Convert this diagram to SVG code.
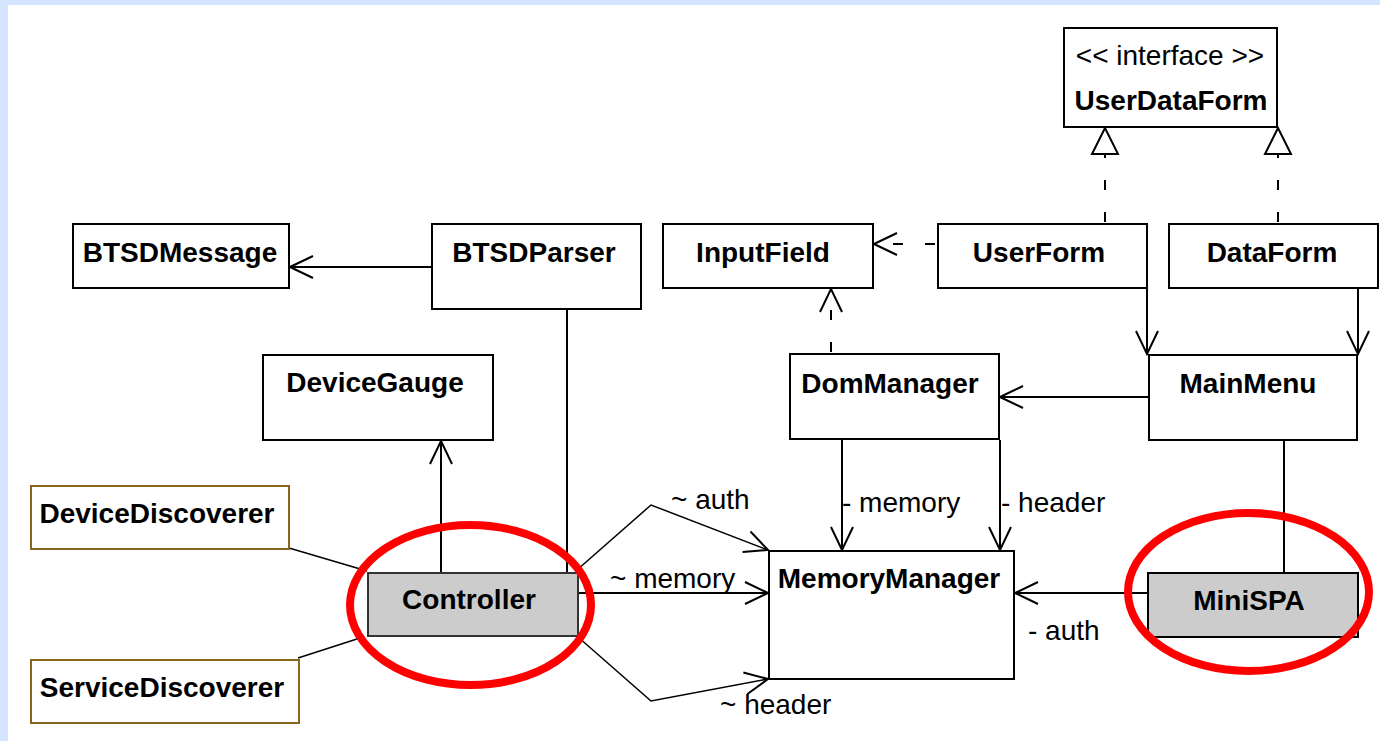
<svg xmlns="http://www.w3.org/2000/svg" width="1380" height="741" viewBox="0 0 1380 741">
<defs>
<style>
.box{fill:#fff;stroke:#000;stroke-width:2}
.gbox{fill:#ccc;stroke:#333;stroke-width:2}
.bbox{fill:#fff;stroke:#85661A;stroke-width:2}
.t{font-family:"Liberation Sans",Arial,sans-serif;font-size:28px;font-weight:bold;fill:#000;text-anchor:middle}
.r{font-family:"Liberation Sans",Arial,sans-serif;font-size:28px;fill:#000}
.c{fill:none;stroke:#000;stroke-width:2}
.thin{fill:none;stroke:#000;stroke-width:1.5}
.d{fill:none;stroke:#000;stroke-width:2;stroke-dasharray:10 22;stroke-dashoffset:30}
.ring{fill:none;stroke:#f00;stroke-width:8}
</style>
<marker id="open" viewBox="-26 -14 28 28" markerWidth="28" markerHeight="28" refX="0" refY="0" orient="auto" markerUnits="userSpaceOnUse">
<path d="M -23 -11 L 0 0 L -23 11" fill="none" stroke="#000" stroke-width="2"/>
</marker>
<marker id="tri" viewBox="-28 -15 30 30" markerWidth="30" markerHeight="30" refX="0" refY="0" orient="auto" markerUnits="userSpaceOnUse">
<path d="M 0 0 L -26 -13 L -26 13 Z" fill="#fff" stroke="#000" stroke-width="2"/>
</marker>
</defs>
<rect x="0" y="0" width="1380" height="741" fill="#fff"/>
<rect x="0" y="0" width="1380" height="5" fill="#D5E5FF"/>
<rect x="0" y="0" width="8" height="741" fill="#D5E5FF"/>

<g id="connectors">
<line class="c" x1="431" y1="267" x2="290" y2="267" marker-end="url(#open)"/>
<line class="c" x1="441" y1="573" x2="441" y2="441" marker-end="url(#open)"/>
<line class="c" x1="567" y1="309" x2="567" y2="573"/>
<line class="c" x1="578" y1="593" x2="768" y2="593" marker-end="url(#open)"/>
<polyline class="thin" points="577,570 651,505 768,550" marker-end="url(#open)"/>
<polyline class="thin" points="578,637 651,701 768,679" marker-end="url(#open)"/>
<line class="c" x1="842" y1="440" x2="842" y2="550" marker-end="url(#open)"/>
<line class="c" x1="1000" y1="440" x2="1000" y2="550" marker-end="url(#open)"/>
<line class="c" x1="1148" y1="593" x2="1015" y2="593" marker-end="url(#open)"/>
<line class="c" x1="1149" y1="397" x2="1000" y2="397" marker-end="url(#open)"/>
<line class="c" x1="1147" y1="288" x2="1147" y2="354" marker-end="url(#open)"/>
<line class="c" x1="1358" y1="288" x2="1358" y2="354" marker-end="url(#open)"/>
<line class="c" x1="1284" y1="440" x2="1284" y2="573"/>
<line class="d" x1="831" y1="354" x2="831" y2="289" marker-end="url(#open)"/>
<line class="d" x1="937" y1="244" x2="874" y2="244" marker-end="url(#open)"/>
<line class="d" x1="1105" y1="224" x2="1105" y2="128" marker-end="url(#tri)"/>
<line class="d" x1="1278" y1="224" x2="1278" y2="128" marker-end="url(#tri)"/>
<line class="thin" x1="289" y1="548" x2="367" y2="571"/>
<line class="thin" x1="298" y1="658" x2="360" y2="638"/>
<text class="r" x="671" y="509">~ auth</text>
<text class="r" x="610" y="588">~ memory</text>
<text class="r" x="720" y="714">~ header</text>
<text class="r" x="842" y="512">- memory</text>
<text class="r" x="1001" y="512">- header</text>
<text class="r" x="1028" y="640">- auth</text>
</g>

<g id="UserDataForm">
<rect class="box" x="1064" y="28" width="213" height="99"/>
<text class="r" x="1170" y="65" text-anchor="middle">&lt;&lt; interface &gt;&gt;</text>
<text class="t" x="1171" y="110">UserDataForm</text>
</g>
<g id="BTSDMessage">
<rect class="box" x="73" y="224" width="216" height="64"/>
<text class="t" x="180" y="262">BTSDMessage</text>
</g>
<g id="BTSDParser">
<rect class="box" x="432" y="224" width="209" height="85"/>
<text class="t" x="534" y="262">BTSDParser</text>
</g>
<g id="InputField">
<rect class="box" x="663" y="224" width="210" height="64"/>
<text class="t" x="763" y="262">InputField</text>
</g>
<g id="UserForm">
<rect class="box" x="938" y="224" width="209" height="64"/>
<text class="t" x="1039" y="262">UserForm</text>
</g>
<g id="DataForm">
<rect class="box" x="1169" y="224" width="209" height="64"/>
<text class="t" x="1272" y="262">DataForm</text>
</g>
<g id="DeviceGauge">
<rect class="box" x="263" y="355" width="230" height="85"/>
<text class="t" x="375" y="392">DeviceGauge</text>
</g>
<g id="DomManager">
<rect class="box" x="790" y="354" width="209" height="85"/>
<text class="t" x="890" y="393">DomManager</text>
</g>
<g id="MainMenu">
<rect class="box" x="1149" y="355" width="208" height="85"/>
<text class="t" x="1248" y="393">MainMenu</text>
</g>
<g id="DeviceDiscoverer">
<rect class="bbox" x="31" y="486" width="258" height="63"/>
<text class="t" x="157" y="523">DeviceDiscoverer</text>
</g>
<g id="ServiceDiscoverer">
<rect class="bbox" x="31" y="660" width="268" height="63"/>
<text class="t" x="162" y="697">ServiceDiscoverer</text>
</g>
<g id="Controller">
<rect class="gbox" x="368" y="573" width="210" height="63"/>
<text class="t" x="469" y="609">Controller</text>
</g>
<g id="MemoryManager">
<rect class="box" x="769" y="551" width="245" height="128"/>
<text class="t" x="889" y="588">MemoryManager</text>
</g>
<g id="MiniSPA">
<rect class="gbox" x="1148" y="573" width="210" height="64" style="stroke:#000"/>
<text class="t" x="1249" y="610">MiniSPA</text>
</g>
<g id="highlights">
<ellipse class="ring" cx="470.5" cy="605" rx="120.5" ry="80"/>
<ellipse class="ring" cx="1248.5" cy="592" rx="120.5" ry="79"/>
</g>
</svg>
